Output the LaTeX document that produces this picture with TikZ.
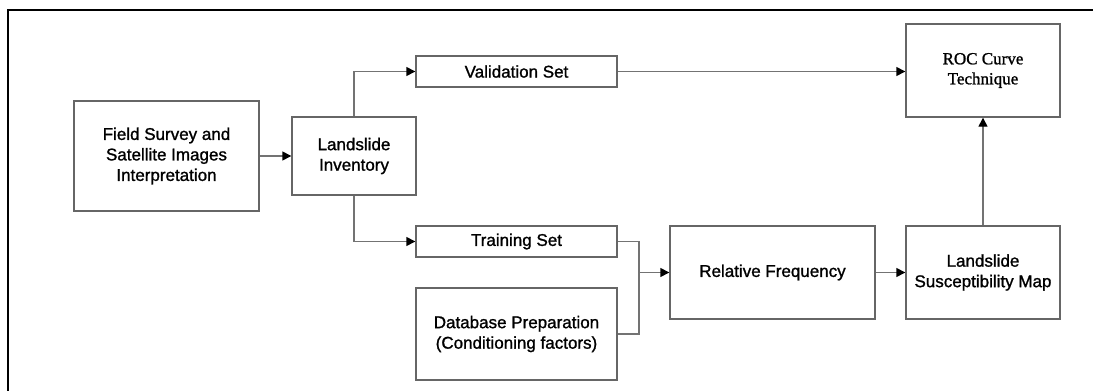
\documentclass[tikz,border=0pt]{standalone}
\usepackage{fontspec}
\newfontfamily\sansface{Liberation Sans}[UprightFeatures={FakeBold=1.2}]
\newfontfamily\serifface{Liberation Serif}[UprightFeatures={FakeBold=1.2}]
\usetikzlibrary{arrows.meta}
\begin{document}
\begin{tikzpicture}[x=1pt,y=-1pt,
  box/.style={draw=black!60, line width=1.4pt, inner sep=0pt, align=center,
    font=\sansface\fontsize{17}{20.5}\selectfont},
  link/.style={draw=black!55, line width=1.4pt},
  flow/.style={link, -{Triangle[length=9pt,width=9pt,color=black]}}]
\useasboundingbox (0,0) rectangle (1093,391);
% frame
\draw[line width=2pt] (8,400) -- (8,10) -- (1100,10);

% boxes
\node[box, minimum width=185pt, minimum height=110pt] (field) at (166.5,156)
  {Field Survey and\\Satellite Images\\Interpretation};
\node[box, minimum width=124pt, minimum height=78pt] (inv) at (354,156)
  {Landslide\\Inventory};
\node[box, minimum width=201pt, minimum height=31pt] (val) at (516.5,71.5)
  {Validation Set};
\node[box, minimum width=201pt, minimum height=31pt] (train) at (516.5,241.5)
  {Training Set};
\node[box, minimum width=201pt, minimum height=92pt] (db) at (516.5,334)
  {Database Preparation\\(Conditioning factors)};
\node[box, minimum width=205pt, minimum height=93pt] (rf) at (772.5,272.5)
  {Relative Frequency};
\node[box, minimum width=154pt, minimum height=93pt] (lsm) at (983,272.5)
  {Landslide\\Susceptibility Map};
\node[box, minimum width=154pt, minimum height=93pt, font=\serifface\fontsize{17}{20}\selectfont] (roc) at (983,70.5)
  {ROC Curve\\Technique};

% connectors
\coordinate (merge) at (639,272.5);
\draw[flow] (field) -- (inv);
\draw[flow] (inv.north) |- (val.west);
\draw[flow] (inv.south) |- (train.west);
\draw[flow] (val.east) -- (val.east -| roc.west);
\draw[link] (train.east) -| (merge) |- (db.east);
\draw[flow] (merge) -- (rf.west);
\draw[flow] (rf) -- (lsm);
\draw[flow] (lsm) -- (roc);
\end{tikzpicture}
\end{document}
